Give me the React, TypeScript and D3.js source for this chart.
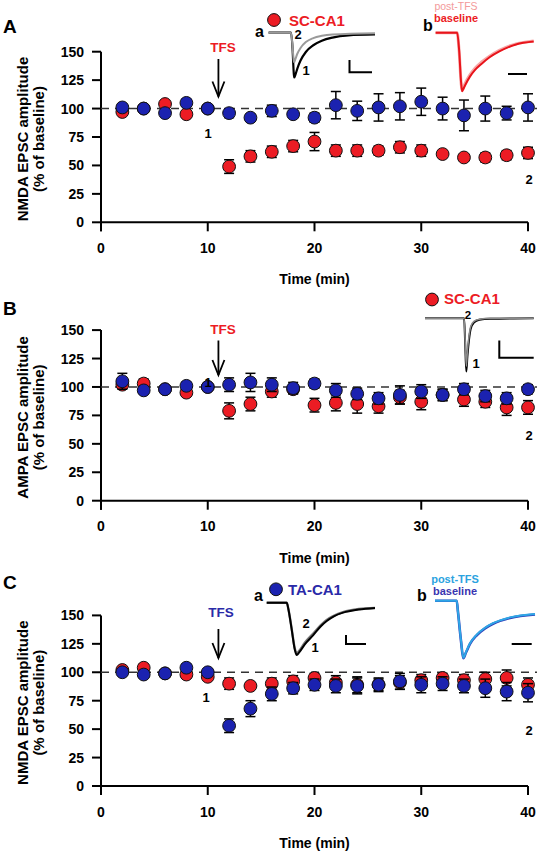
import React from 'react';
import * as d3 from 'd3';

// ---------- data ----------
const time = [2, 4, 6, 8, 10, 12, 14, 16, 18, 20, 22, 24, 26, 28, 30, 32, 34, 36, 38, 40];
const xTicks = [0, 10, 20, 30, 40];
const yTicks = [0, 25, 50, 75, 100, 125, 150];

// Panel A: NMDA EPSC, SC-CA1
const aRedMean = [97, 100, 104, 95, 100, 49, 58, 62, 67, 71, 63, 63, 63, 66, 63, 60, 57, 57, 59, 61];
const aRedSe = [2, 2, 3, 2, 2, 6, 5, 5, 5, 8, 5, 5, 4, 5, 5, 3, 3, 4, 4, 5];
const aBlueMean = [101, 100, 96, 105, 100, 96, 92, 98, 95, 92, 103, 98, 101, 102, 106, 100, 94, 100, 96, 101];
const aBlueSe = [2, 2, 3, 3, 2, 4, 3, 5, 3, 4, 12, 8.5, 12, 12, 12, 10, 13.5, 11, 6, 12];

// Panel B: AMPA EPSC, SC-CA1
const bRedMean = [102, 103, 98, 95, 100, 79, 85, 96, 98, 84, 86, 85, 83, 91, 87, 93, 89, 87, 82, 82];
const bRedSe = [3, 4, 3, 3, 2, 7, 6, 5, 4, 6, 7, 8, 6, 6, 7, 5, 6, 5, 7, 6];
const bBlueMean = [105, 97, 98, 101, 100, 102, 104, 102, 99, 103, 97, 94, 90, 93, 96, 93, 98, 92, 90, 98];
const bBlueSe = [7, 2, 3, 3, 2, 6, 8, 6, 5, 4, 6, 5, 5, 8, 6, 5, 5, 5, 5, 4];

// Panel C: NMDA EPSC, TA-CA1
const cRedMean = [102, 104, 99, 98, 96, 90, 88, 90, 92, 95, 91, 89, 89, 91, 93, 95, 93, 94, 95, 89];
const cRedSe = [2, 3, 2, 3, 3, 5, 3, 5, 5, 4, 6, 7, 5, 6, 5, 4, 5, 6, 7, 6];
const cBlueMean = [100, 98, 99, 104, 100, 53, 68, 81, 86, 89, 88, 88, 89, 92, 89, 90, 88, 86, 83, 82];
const cBlueSe = [2, 2, 2, 3, 3, 6, 7, 6, 5, 5, 6, 7, 6, 7, 7, 6, 6, 8, 8, 8];

// Example traces (normalised time 0-100, normalised amplitude 0..-1)
const nmdaScA1: [number, number][] = [[0, 0], [21, 0], [22.5, -0.35], [23.5, -0.85], [24, -1], [25, -0.95], [27, -0.8], [30, -0.62], [35, -0.43], [42, -0.28], [50, -0.18], [60, -0.11], [75, -0.06], [100, -0.04]];
const nmdaScA2: [number, number][] = [[0, 0], [21, 0], [22.5, -0.3], [23.5, -0.6], [24, -0.66], [25, -0.6], [27, -0.47], [30, -0.34], [35, -0.21], [42, -0.12], [50, -0.07], [60, -0.04], [100, -0.01]];
const nmdaScBBase: [number, number][] = [[0, 0], [22, 0], [24, -0.3], [26, -0.85], [27, -1], [28, -0.97], [30, -0.9], [35, -0.75], [40, -0.64], [47, -0.53], [55, -0.42], [65, -0.32], [82, -0.2], [100, -0.15]];
const nmdaScBPost: [number, number][] = [[0, 0], [22, 0], [24, -0.32], [26, -0.86], [27, -0.99], [28, -0.95], [30, -0.87], [35, -0.72], [40, -0.61], [47, -0.5], [55, -0.4], [65, -0.3], [82, -0.19], [100, -0.14]];
const ampa1: [number, number][] = [[0, 0], [36, 0], [37, -0.5], [38, -1], [39, -0.72], [40.5, -0.4], [42, -0.2], [45, -0.08], [50, -0.03], [60, -0.01], [100, 0]];
const ampa2: [number, number][] = [[0, 0], [36, 0], [37, -0.45], [38, -0.9], [39, -0.62], [40.5, -0.33], [42, -0.16], [45, -0.06], [50, -0.02], [60, 0], [100, 0]];
const nmdaTa1: [number, number][] = [[0, 0], [18.5, 0], [20, -0.12], [23, -0.5], [26, -0.9], [27.7, -1], [30, -0.95], [35, -0.8], [43, -0.62], [50, -0.45], [55.4, -0.35], [62, -0.26], [70.5, -0.19], [85, -0.13], [100, -0.1]];
const nmdaTa2: [number, number][] = [[0, 0], [18.5, 0], [20, -0.12], [23, -0.49], [26, -0.88], [27.7, -0.97], [30, -0.92], [35, -0.77], [43, -0.59], [50, -0.43], [55.4, -0.33], [62, -0.25], [70.5, -0.18], [85, -0.12], [100, -0.1]];
const nmdaTaBBase: [number, number][] = [[0, 0], [21.7, 0], [23, -0.2], [26, -0.7], [28.3, -1], [31, -0.9], [35, -0.75], [41.7, -0.6], [50, -0.48], [58, -0.4], [75, -0.3], [100, -0.24]];
const nmdaTaBPost: [number, number][] = [[0, 0], [21.7, 0], [23, -0.2], [26, -0.69], [28.3, -0.99], [31, -0.89], [35, -0.74], [41.7, -0.59], [50, -0.47], [58, -0.39], [75, -0.29], [100, -0.23]];

// ---------- styling ----------
const W = 539, H = 853;
const X0 = 101, X1 = 528;
const FONT = "'Liberation Sans', Arial, Helvetica, sans-serif";
const RED = '#ec1c24';
const BLUE = '#1b22b0';
const xScale = d3.scaleLinear().domain([0, 40]).range([X0, X1]);

type YS = d3.ScaleLinear<number, number>;

function Series({ mean, se, color, y }: { mean: number[]; se: number[]; color: string; y: YS }) {
  return (
    <g>
      {time.map((t, i) => {
        const cx = xScale(t);
        const yt = y(mean[i] + se[i]);
        const yb = y(mean[i] - se[i]);
        return (
          <g key={'e' + i} stroke="#000" strokeWidth={1.5}>
            <line x1={cx} x2={cx} y1={yt} y2={yb} />
            <line x1={cx - 5} x2={cx + 5} y1={yt} y2={yt} />
            <line x1={cx - 5} x2={cx + 5} y1={yb} y2={yb} />
          </g>
        );
      })}
      {time.map((t, i) => (
        <circle key={'c' + i} cx={xScale(t)} cy={y(mean[i])} r={6.4} fill={color} stroke="#111" strokeWidth={1} />
      ))}
    </g>
  );
}

function Trace({ data, x0, x1, yBase, amp, stroke, width = 2 }: { data: [number, number][]; x0: number; x1: number; yBase: number; amp: number; stroke: string; width?: number }) {
  const sx = d3.scaleLinear().domain([0, 100]).range([x0, x1]);
  const sy = d3.scaleLinear().domain([-1, 0]).range([yBase + amp, yBase]);
  const line = d3.line<[number, number]>().x(d => sx(d[0])).y(d => sy(d[1])).curve(d3.curveMonotoneX);
  return <path d={line(data) || ''} fill="none" stroke={stroke} strokeWidth={width} strokeLinejoin="round" />;
}

function Arrow({ x, y1, y2 }: { x: number; y1: number; y2: number }) {
  return (
    <g stroke="#000" strokeWidth={1.8} fill="none">
      <line x1={x} x2={x} y1={y1} y2={y2} />
      <polyline points={`${x - 6},${y2 - 15} ${x},${y2} ${x + 6},${y2 - 15}`} />
    </g>
  );
}

function Panel({ top, bottom, letter, letterY, ylabel, children }: { top: number; bottom: number; letter: string; letterY: number; ylabel: string; children?: React.ReactNode }) {
  const y = d3.scaleLinear().domain([0, 150]).range([bottom, top]);
  const mid = (top + bottom) / 2 + 2;
  return (
    <g fontFamily={FONT} fontWeight="bold">
      <text x={3} y={letterY} fontSize={19}>{letter}</text>
      <text transform={`translate(28,${mid}) rotate(-90)`} textAnchor="middle" fontSize={15}>{ylabel}</text>
      <text transform={`translate(44,${mid}) rotate(-90)`} textAnchor="middle" fontSize={15}>(% of baseline)</text>
      {/* axes */}
      <g stroke="#000" strokeWidth={2}>
        <line x1={X0} x2={X0} y1={top} y2={bottom + 9} />
        <line x1={X0} x2={X1} y1={bottom} y2={bottom} />
        {yTicks.map(v => <line key={'yt' + v} x1={X0 - 9} x2={X0} y1={y(v)} y2={y(v)} />)}
        {xTicks.map(v => <line key={'xt' + v} x1={xScale(v)} x2={xScale(v)} y1={bottom} y2={bottom + 9} />)}
      </g>
      {yTicks.map(v => (
        <text key={'yl' + v} x={84} y={y(v) + 5} textAnchor="end" fontSize={14}>{v}</text>
      ))}
      {xTicks.map(v => (
        <text key={'xl' + v} x={xScale(v)} y={bottom + 30.5} textAnchor="middle" fontSize={14}>{v}</text>
      ))}
      <text x={(X0 + X1) / 2} y={bottom + 62} textAnchor="middle" fontSize={14}>Time (min)</text>
      <line x1={X0} x2={537} y1={y(100)} y2={y(100)} stroke="#333" strokeWidth={1.5} strokeDasharray="8,6" />
      {children}
    </g>
  );
}

export default function App() {
  const yA = d3.scaleLinear().domain([0, 150]).range([222.3, 51.7]);
  const yB = d3.scaleLinear().domain([0, 150]).range([500.7, 330.1]);
  const yC = d3.scaleLinear().domain([0, 150]).range([786, 615.4]);
  const xa = xScale(11);
  return (
    <svg width={W} height={H} style={{ position: 'absolute', left: 0, top: 0, background: '#fff' }}>
      <rect width={W} height={H} fill="#fff" />
      {/* Panel A */}
      <Panel top={51.7} bottom={222.3} letter="A" letterY={33} ylabel="NMDA EPSC amplitude">
        <Series mean={aRedMean} se={aRedSe} color={RED} y={yA} />
        <Series mean={aBlueMean} se={aBlueSe} color={BLUE} y={yA} />
        <text x={223} y={51.5} fill={RED} textAnchor="middle" fontSize={13.5}>TFS</text>
        <Arrow x={xa} y1={59} y2={96.5} />
        <text x={208} y={138} textAnchor="middle" fontSize={13}>1</text>
        <text x={529} y={184} textAnchor="middle" fontSize={13}>2</text>
        <circle cx={274} cy={20} r={6.4} fill={RED} stroke="#111" strokeWidth={1} />
        <text x={289} y={25.5} fill={RED} fontSize={15}>SC-CA1</text>
        <text x={255} y={37} fontSize={16}>a</text>
        <Trace data={nmdaScA1} x0={268.6} x1={375} yBase={32.7} amp={44.8} stroke="#000" width={2.2} />
        <Trace data={nmdaScA2} x0={268.6} x1={375} yBase={32.7} amp={44.8} stroke="#9a9a9a" width={2} />
        <text x={298} y={39} textAnchor="middle" fontSize={13}>2</text>
        <text x={306} y={75} textAnchor="middle" fontSize={13}>1</text>
        <g stroke="#000" strokeWidth={2} fill="none">
          <polyline points="349.5,60 349.5,72.3 372,72.3" />
          <line x1={508} x2={527} y1={74} y2={74} />
        </g>
        <text x={423} y={31} fontSize={16}>b</text>
        <text x={456} y={10} fill="#f39a9a" textAnchor="middle" fontSize={10.5} fontWeight="normal">post-TFS</text>
        <text x={456} y={22} fill={RED} textAnchor="middle" fontSize={11}>baseline</text>
        <Trace data={nmdaScBPost} x0={435.6} x1={533.7} yBase={32.7} amp={58.6} stroke="#f7a5a5" width={3} />
        <Trace data={nmdaScBBase} x0={435.6} x1={533.7} yBase={32.7} amp={58.6} stroke="#e8141b" width={2} />
      </Panel>

      {/* Panel B */}
      <Panel top={330.1} bottom={500.7} letter="B" letterY={314.5} ylabel="AMPA EPSC amplitude">
        <Series mean={bRedMean} se={bRedSe} color={RED} y={yB} />
        <Series mean={bBlueMean} se={bBlueSe} color={BLUE} y={yB} />
        <text x={223} y={334} fill={RED} textAnchor="middle" fontSize={13.5}>TFS</text>
        <Arrow x={xa} y1={340.5} y2={375} />
        <text x={208} y={387} textAnchor="middle" fontSize={13}>1</text>
        <text x={529} y={440} textAnchor="middle" fontSize={13}>2</text>
        <circle cx={432} cy={299.5} r={6.4} fill={RED} stroke="#111" strokeWidth={1} />
        <text x={444} y={304} fill={RED} fontSize={15}>SC-CA1</text>
        <Trace data={ampa1} x0={425} x1={533.7} yBase={318.2} amp={53.4} stroke="#000" width={2} />
        <Trace data={ampa2} x0={425} x1={533.7} yBase={318.2} amp={53.4} stroke="#8a8a8a" width={1.5} />
        <text x={468} y={318.5} textAnchor="middle" fontSize={11.5}>2</text>
        <text x={476} y={368} textAnchor="middle" fontSize={13}>1</text>
        <polyline points="499.3,340.6 499.3,357.8 533.7,357.8" stroke="#000" strokeWidth={2} fill="none" />
      </Panel>

      {/* Panel C */}
      <Panel top={615.4} bottom={786} letter="C" letterY={589} ylabel="NMDA EPSC amplitude">
        <Series mean={cRedMean} se={cRedSe} color={RED} y={yC} />
        <Series mean={cBlueMean} se={cBlueSe} color={BLUE} y={yC} />
        <text x={221} y={617} fill="#2a2aa8" textAnchor="middle" fontSize={13.5}>TFS</text>
        <Arrow x={xa} y1={629} y2={658} />
        <text x={206} y={702} textAnchor="middle" fontSize={13}>1</text>
        <text x={529} y={735} textAnchor="middle" fontSize={13}>2</text>
        <circle cx={276} cy={589.3} r={6.4} fill={BLUE} stroke="#111" strokeWidth={1} />
        <text x={288} y={595} fill="#2a2aa8" fontSize={15}>TA-CA1</text>
        <text x={254} y={601} fontSize={16}>a</text>
        <Trace data={nmdaTa2} x0={266.7} x1={375} yBase={602.7} amp={52.3} stroke="#777" width={2.4} />
        <Trace data={nmdaTa1} x0={266.7} x1={375} yBase={602.7} amp={52.3} stroke="#000" width={2} />
        <text x={306} y={628} textAnchor="middle" fontSize={13}>2</text>
        <text x={315} y={652} textAnchor="middle" fontSize={13}>1</text>
        <g stroke="#000" strokeWidth={2} fill="none">
          <polyline points="346,635 346,644 366,644" />
          <line x1={511.7} x2={531.7} y1={644} y2={644} />
        </g>
        <text x={417} y={601} fontSize={16}>b</text>
        <text x={455} y={583} fill="#2ba3e0" textAnchor="middle" fontSize={11}>post-TFS</text>
        <text x={455} y={595} fill="#3a35b0" textAnchor="middle" fontSize={11}>baseline</text>
        <Trace data={nmdaTaBBase} x0={435} x1={535} yBase={600.7} amp={57.6} stroke="#2f3fb8" width={2.6} />
        <Trace data={nmdaTaBPost} x0={435} x1={535} yBase={600.7} amp={57.6} stroke="#2ea6e6" width={2} />
      </Panel>
    </svg>
  );
}
